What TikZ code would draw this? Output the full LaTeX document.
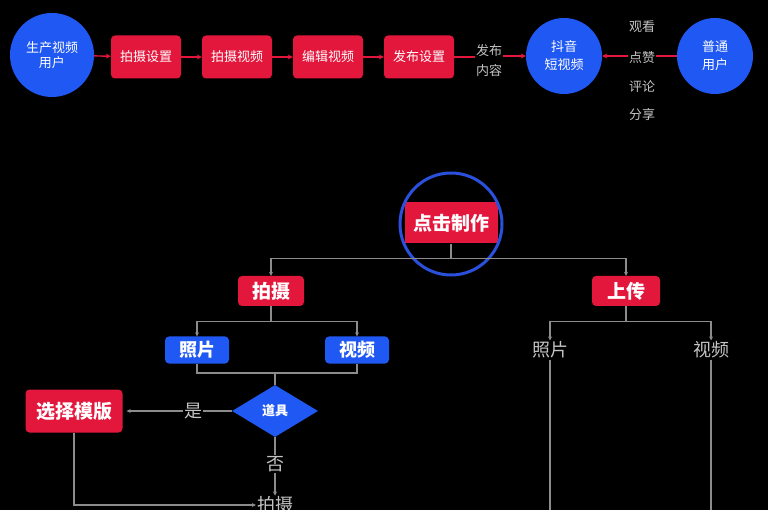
\documentclass[tikz,border=0pt]{standalone}
\usepackage{fontspec}
\setmainfont{Noto Sans CJK SC}
\usetikzlibrary{arrows.meta,shapes.geometric}
\definecolor{myred}{HTML}{E3163C}
\definecolor{myblue}{HTML}{1F58F2}
\definecolor{ringblue}{HTML}{2A50DC}
\definecolor{lgray}{HTML}{8C8C8C}
\definecolor{tgray}{HTML}{C4C4C4}
\begin{document}
\begin{tikzpicture}[x=1pt,y=-1pt,
  ucirc/.style={circle, fill=myblue, text=white, inner sep=0pt, align=center, font=\fontsize{13}{16}\selectfont},
  topbox/.style={rectangle, rounded corners=4pt, fill=myred, text=white, minimum width=70pt, minimum height=43pt, inner sep=0pt, font=\fontsize{13}{15}\selectfont},
  redbox/.style={rectangle, rounded corners=4pt, fill=myred, text=white, inner sep=0pt, font=\fontsize{19}{21}\selectfont\bfseries},
  bluebox/.style={rectangle, rounded corners=4pt, fill=myblue, text=white, inner sep=0pt, minimum width=64pt, minimum height=27pt, font=\fontsize{18}{20}\selectfont\bfseries},
  graytext/.style={text=tgray, inner sep=1pt, font=\fontsize{18}{20}\selectfont},
  smalltext/.style={text=tgray, inner sep=1pt, align=center, font=\fontsize{13}{20}\selectfont},
  redarrow/.style={draw=myred, line width=1.4pt, -{Stealth[length=5pt,width=5pt]}},
  redline/.style={draw=myred, line width=1.4pt},
  gline/.style={draw=lgray, line width=1.2pt},
  garrow/.style={draw=lgray, line width=1.2pt, -{Stealth[length=4pt,width=4pt]}},
]
\path[fill=black,use as bounding box] (0,0) rectangle (768,510);

% ---------- top row ----------
\node[ucirc, minimum size=84pt, font=\fontsize{13}{15}\selectfont] (prod) at (52,55) {生产视频\\用户};
\node[topbox] (b1) at (146,57) {拍摄设置};
\node[topbox] (b2) at (237,57) {拍摄视频};
\node[topbox] (b3) at (328,57) {编辑视频};
\node[topbox] (b4) at (419,57) {发布设置};
\node[ucirc, minimum size=76pt, font=\fontsize{13}{18}\selectfont] (dy) at (564,56) {抖音\\短视频};
\node[ucirc, minimum size=76pt, font=\fontsize{13}{18}\selectfont] (pt) at (715,56) {普通\\用户};

\draw[redarrow] (prod) -- (b1);
\draw[redarrow] (b1) -- (b2);
\draw[redarrow] (b2) -- (b3);
\draw[redarrow] (b3) -- (b4);
\node[smalltext] (fbnr) at (489,61) {发布\\内容};
\draw[redline] (b4.east) -- (b4.east -| fbnr.west);
\draw[redarrow] (fbnr.east |- dy.west) -- (dy.west);

\node[smalltext] (gk) at (642,27) {观看};
\node[smalltext] (dz) at (642,58) {点赞};
\node[smalltext] (pl) at (642,87) {评论};
\node[smalltext] (fx) at (642,115) {分享};
\draw[redline] (pt.west) -- (pt.west -| dz.east);
\draw[redarrow] (dz.west |- dy.east) -- (dy.east);

% ---------- middle ----------
\node[rectangle, fill=myred, text=white, minimum width=93pt, minimum height=41pt, inner sep=0pt, font=\fontsize{19}{21}\selectfont\bfseries] (djzz) at (451,223) {点击制作};
\node[circle, draw=ringblue, line width=3pt, minimum size=102pt, inner sep=0pt] (ring) at (451,224) {};

\node[redbox, minimum width=66pt, minimum height=30pt] (ps) at (271,291) {拍摄};
\node[redbox, minimum width=68pt, minimum height=30pt] (sc) at (626,291) {上传};

\draw[garrow] (djzz.south) -- ++(0,15) -| (ps.north);
\draw[garrow] (djzz.south) -- ++(0,15) -| (sc.north);

\node[bluebox] (zp) at (197,350) {照片};
\node[bluebox] (sp) at (357,350) {视频};
\draw[garrow] (ps.south) -- ++(0,15) -| (zp.north);
\draw[garrow] (ps.south) -- ++(0,15) -| (sp.north);

\node[diamond, fill=myblue, text=white, minimum width=86pt, minimum height=52pt, inner sep=0pt, aspect=1.65, font=\fontsize{13}{15}\selectfont\bfseries] (dj) at (275,411) {道具};
\coordinate (mrg) at (275,373);
\draw[gline] (zp.south) |- (mrg) -| (sp.south);
\draw[gline] (mrg) -- (dj.north);

\node[redbox, minimum width=97pt, minimum height=43pt] (xz) at (74,411) {选择模版};
\node[graytext] (yes) at (193,411) {是};
\draw[gline] (dj.west) -- (yes.east);
\draw[garrow, shorten >=4pt] (yes.west) -- (xz.east);

\node[graytext] (no) at (275,464) {否};
\node[graytext] (ps2) at (275,505) {拍摄};
\draw[gline] (dj.south) -- (no.north);
\draw[garrow] (no.south) -- (ps2.north);
\draw[garrow] (xz.south) |- (ps2.west);

% ---------- right branch ----------
\node[graytext] (zp2) at (550,350) {照片};
\node[graytext] (sp2) at (711,350) {视频};
\draw[garrow] (sc.south) -- ++(0,15) -| (zp2.north);
\draw[garrow] (sc.south) -- ++(0,15) -| (sp2.north);
\coordinate (zpend) at (550,512);
\coordinate (spend) at (711,512);
\draw[gline] (zp2.south) -- (zpend);
\draw[gline] (sp2.south) -- (spend);
\end{tikzpicture}
\end{document}
